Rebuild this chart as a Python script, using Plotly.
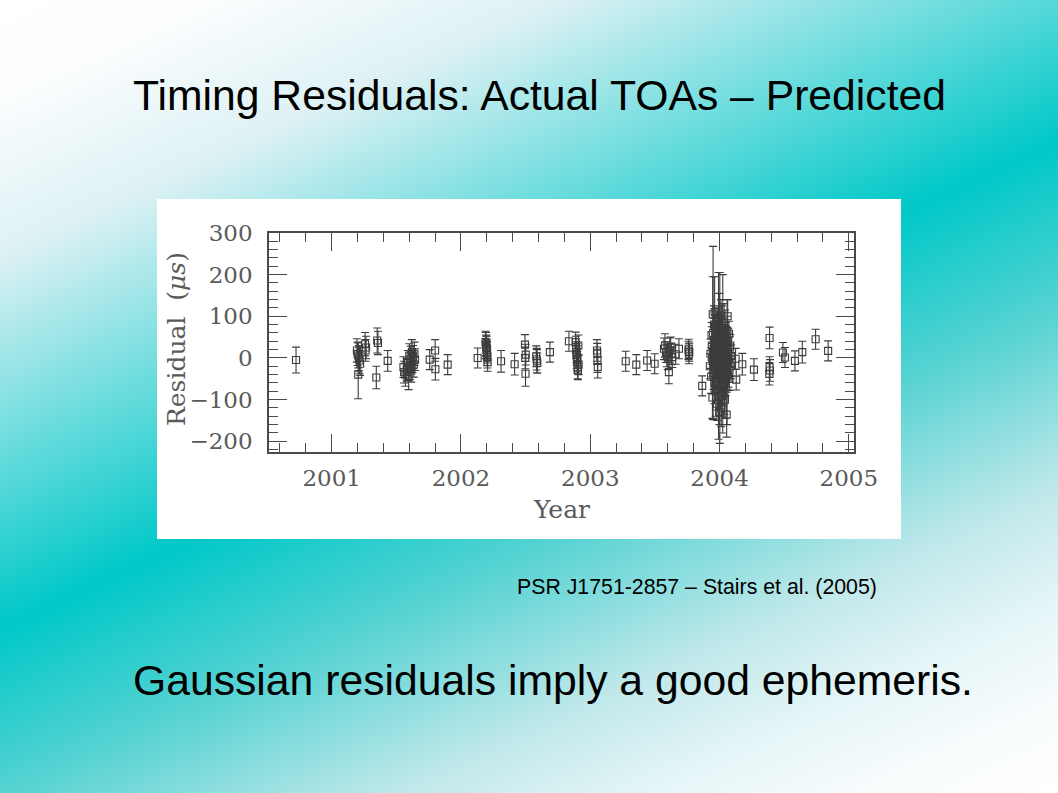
import numpy as np
import plotly.graph_objects as go

# ---------------- data ----------------
toa_year = [
    2000.724,
    2001.195, 2001.200, 2001.205, 2001.210, 2001.215, 2001.220, 2001.205,
    2001.258, 2001.262, 2001.266,
    2001.352, 2001.358, 2001.345,
    2001.433,
    2001.555, 2001.560, 2001.570, 2001.580, 2001.590, 2001.595, 2001.600, 2001.605,
    2001.610, 2001.615, 2001.620, 2001.625, 2001.630, 2001.635, 2001.640, 2001.645,
    2001.758, 2001.800, 2001.802, 2001.897,
    2002.129,
    2002.190, 2002.193, 2002.196, 2002.198, 2002.200, 2002.202, 2002.204, 2002.206,
    2002.195, 2002.201,
    2002.310, 2002.415,
    2002.495, 2002.497, 2002.499, 2002.501,
    2002.582, 2002.585, 2002.588, 2002.590,
    2002.688, 2002.835,
    2002.887, 2002.890, 2002.893, 2002.896, 2002.899, 2002.902, 2002.905, 2002.908,
    2002.895, 2002.900, 2002.910,
    2003.052, 2003.054, 2003.056, 2003.058,
    2003.274, 2003.356, 2003.440, 2003.498,
    2003.570, 2003.578, 2003.585, 2003.592, 2003.600, 2003.608, 2003.615, 2003.622,
    2003.628, 2003.634,
    2003.660, 2003.686, 2003.760, 2003.763, 2003.766, 2003.762,
    2003.866,
    2003.925, 2003.930, 2003.935, 2003.940, 2003.945, 2003.947, 2003.950, 2003.952,
    2003.955, 2003.958, 2003.960, 2003.962, 2003.965, 2003.967, 2003.970, 2003.972,
    2003.975, 2003.977, 2003.980, 2003.982, 2003.985, 2003.987, 2003.990, 2003.992,
    2003.995, 2003.997, 2004.000, 2004.002, 2004.005, 2004.007, 2004.010, 2004.012,
    2004.015, 2004.017, 2004.020, 2004.022, 2004.025, 2004.027, 2004.030, 2004.032,
    2004.035, 2004.037, 2004.040, 2004.042, 2004.045, 2004.047, 2004.050, 2004.052,
    2004.055, 2004.057, 2004.060, 2004.062, 2004.065, 2004.067, 2004.070, 2004.073,
    2004.077, 2004.080, 2004.085, 2004.090,
    2003.948, 2003.953, 2003.957, 2003.963, 2003.968, 2003.973, 2003.978, 2003.983,
    2003.988, 2003.993, 2003.998, 2004.003, 2004.008, 2004.013, 2004.018, 2004.023,
    2004.028, 2004.033, 2004.038, 2004.043, 2004.048, 2004.053, 2004.058, 2004.063,
    2004.068, 2003.943, 2003.938, 2004.075, 2004.083, 2004.088,
    2004.124, 2004.129, 2004.176, 2004.266,
    2004.387, 2004.387, 2004.390, 2004.385,
    2004.490, 2004.506, 2004.583, 2004.640, 2004.743, 2004.840,
]

residual_us = [
    -5,
    18, 10, 6, 0, -6, -14, -40,
    33, 18, 25,
    42, 36, -47,
    -7,
    -22, -34, -40, -28, -12, -46, 6, -20,
    -2, -30, 14, -8, 2, -16, 10, -4,
    -4, 18, -27, -16,
    0,
    38, 33, 30, 24, 18, 10, 2, -10,
    26, 14,
    -8, -15,
    32, 0, -38, 8,
    4, -3, -8, -12,
    14, 40,
    38, 26, 14, 2, -10, -22, -30, 30,
    8, -4, -16,
    18, 10, -7, -22,
    -8, -16, -6, -14,
    22, 30, 14, 6, -2, -34, 18, 26,
    10, 2,
    9, 22, 18, 10, 14, 22,
    -67,
    -20, 10, -45, 30, -95, 105, 60, -10,
    0, 40, -60, 110, -30, 20, -80, 75,
    -5, 50, -110, 15, -40, 90, -20, 5,
    -65, 35, -130, 0, 60, -15, 100, -50,
    25, -90, 70, -25, 10, -70, 45, -5,
    85, -35, 20, -100, 55, -55, 0, 30,
    -136, -20, 65, -45, 15, 40, -10, 58,
    -30, 25, -15, 5,
    15, -35, 80, -15, 45, -50, 25, -75,
    60, -8, 95, -40, 30, -120, 5, 50,
    -60, 20, -85, 70, -25, 40, -10, 100,
    -40, 0, 55, -50, 30, -20,
    -2, -52, -15, -28,
    48, -22, -30, -38,
    13, 1, -7, 14, 45, 17,
]

error_us = [
    31,
    28, 28, 30, 30, 32, 28, 58,
    28, 26, 27,
    30, 28, 27,
    25,
    25, 26, 28, 27, 30, 30, 28, 32,
    30, 28, 30, 27, 28, 30, 28, 26,
    24, 26, 26, 24,
    24,
    26, 28, 25, 27, 26, 28, 26, 22,
    27, 26,
    26, 26,
    24, 26, 30, 25,
    25, 26, 28, 24,
    24, 24,
    24, 26, 25, 27, 26, 28, 22, 25,
    26, 27, 24,
    26, 25, 28, 26,
    24, 24, 24, 24,
    26, 28, 25, 27, 26, 28, 30, 24,
    26, 25,
    24, 24, 22, 24, 22, 23,
    24,
    30, 35, 40, 45, 50, 90, 208, 40,
    30, 55, 50, 85, 35, 30, 60, 45,
    25, 40, 40, 60, 30, 30, 45, 200,
    35, 30, 30, 205, 50, 30, 40, 45,
    35, 50, 60, 28, 190, 40, 35, 30,
    45, 55, 30, 45, 30, 35, 40, 28,
    54, 30, 35, 30, 28, 30, 28, 30,
    28, 26, 28, 26,
    35, 40, 45, 30, 60, 35, 30, 50,
    40, 28, 60, 35, 30, 45, 120, 35,
    40, 30, 50, 45, 30, 35, 150, 40,
    30, 35, 30, 28, 26, 30,
    25, 25, 26, 26,
    26, 25, 26, 27,
    24, 24, 24, 26, 24, 24,
]

x_tick_years = [2001, 2002, 2003, 2004, 2005]
y_tick_values = [-200, -100, 0, 100, 200, 300]

# ---------------- style constants ----------------
W, H = 1058, 793
INK = "#222222"
AXIS_GREY = "#4a4a4a"
LABEL_GREY = "#5a5a5a"
SERIF = "DejaVu Serif"
SANS = "Liberation Sans, Arial, sans-serif"

# diagonal slide gradient (decoration only)
gx = np.linspace(0, W, 54)
gy = np.linspace(0, H, 41)
gz = [[0.46 * xv + yv for xv in gx] for yv in gy]
grad_scale = [
    [0.00, "#FFFFFF"], [0.08, "#FBFDFE"], [0.20, "#DDF1F4"],
    [0.49, "#00C8C8"], [0.62, "#55D2D2"], [0.76, "#BFE8EA"],
    [0.85, "#E5F5F7"], [0.93, "#F8FCFD"], [1.00, "#FFFFFF"],
]

fig = go.Figure()

fig.add_trace(go.Heatmap(
    x=gx, y=gy, z=gz, zmin=0, zmax=0.46 * W + H,
    colorscale=grad_scale, showscale=False, zsmooth="best",
    hoverinfo="skip", xaxis="x", yaxis="y",
))

# white box behind the figure
fig.add_trace(go.Heatmap(
    x=[0, 1], y=[0, 1], z=[[0]], colorscale=[[0, "white"], [1, "white"]],
    showscale=False, hoverinfo="skip", xaxis="x2", yaxis="y2",
))

fig.add_trace(go.Scatter(
    x=toa_year, y=residual_us, mode="markers",
    marker=dict(symbol="square-open", size=7, color=INK, line=dict(width=1.1, color=INK)),
    error_y=dict(type="data", array=error_us, visible=True, color=INK, thickness=1.1, width=4),
    opacity=0.88, xaxis="x3", yaxis="y3", showlegend=False,
))

# plot frame geometry (pixels in the slide)
fl, fr, ft, fb = 269, 854, 233, 451.7
bl, br, bt, bb = 157, 901, 199, 539

tickfont = dict(family=SERIF, size=23, color=LABEL_GREY)

fig.update_layout(
    width=W, height=H,
    margin=dict(l=0, r=0, t=0, b=0, pad=0),
    paper_bgcolor="white",
    plot_bgcolor="rgba(0,0,0,0)",
    showlegend=False,
    xaxis=dict(domain=[0, 1], range=[0, W], visible=False, fixedrange=True, anchor="y"),
    yaxis=dict(domain=[0, 1], range=[H, 0], visible=False, fixedrange=True, anchor="x"),
    xaxis2=dict(domain=[bl / W, br / W], range=[0, 1], visible=False, fixedrange=True, anchor="y2"),
    yaxis2=dict(domain=[1 - bb / H, 1 - bt / H], range=[0, 1], visible=False, fixedrange=True, anchor="x2"),
    xaxis3=dict(
        anchor="y3", automargin=False, fixedrange=True,
        domain=[fl / W, fr / W], range=[2000.515, 2005.04],
        tickmode="array", tickvals=x_tick_years, ticktext=[str(v) for v in x_tick_years],
        ticks="inside", ticklen=18, tickwidth=1.2, tickcolor=AXIS_GREY,
        minor=dict(dtick=0.2, tick0=2000.0, ticks="inside", ticklen=9,
                   tickwidth=1.1, tickcolor=AXIS_GREY),
        showline=True, linecolor=AXIS_GREY, linewidth=1.6, mirror="allticks",
        showgrid=False, zeroline=False, tickfont=tickfont, ticklabelstandoff=5,
    ),
    yaxis3=dict(
        anchor="x3", automargin=False, fixedrange=True,
        domain=[1 - fb / H, 1 - ft / H], range=[-225, 300],
        tickmode="array", tickvals=y_tick_values,
        ticktext=[str(v).replace("-", "\u2212") for v in y_tick_values],
        ticks="inside", ticklen=18, tickwidth=1.2, tickcolor=AXIS_GREY,
        minor=dict(dtick=20, tick0=0, ticks="inside", ticklen=9,
                   tickwidth=1.1, tickcolor=AXIS_GREY),
        showline=True, linecolor=AXIS_GREY, linewidth=1.6, mirror="allticks",
        showgrid=False, zeroline=False, tickfont=tickfont, ticklabelstandoff=10,
    ),
)

annots = [
    dict(text="Timing Residuals: Actual TOAs \u2013 Predicted", x=539 / W, y=1 - 95 / H,
         font=dict(family=SANS, size=42.7, color="black")),
    dict(text="PSR J1751-2857 \u2013 Stairs et al. (2005)", x=697 / W, y=1 - 587 / H,
         font=dict(family=SANS, size=21.3, color="black")),
    dict(text="Gaussian residuals imply a good ephemeris.", x=552.5 / W, y=1 - 680 / H,
         font=dict(family=SANS, size=42.7, color="black")),
    dict(text="Year", x=561 / W, y=1 - 509 / H,
         font=dict(family=SERIF, size=25, color=LABEL_GREY)),
    dict(text="Residual  (<i>\u03bcs</i>)", x=176 / W, y=1 - 339 / H, textangle=-90,
         font=dict(family=SERIF, size=25, color=LABEL_GREY)),
]
for a in annots:
    fig.add_annotation(xref="paper", yref="paper", showarrow=False,
                       xanchor="center", yanchor="middle", **a)

fig.write_html("out.html", config={"displayModeBar": False},
               post_script="document.body.style.margin='0';document.body.style.overflow='hidden';")
